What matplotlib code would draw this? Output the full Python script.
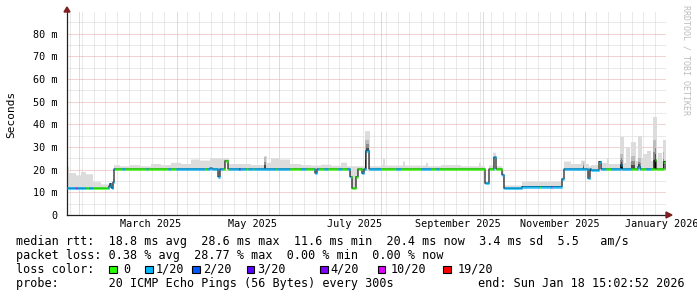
import numpy as np
import pandas as pd
import matplotlib
matplotlib.use('Agg')
import matplotlib.pyplot as plt
import matplotlib.dates as mdates
from matplotlib.patches import Rectangle, Polygon

# time window of the graph (days counted from the left edge)
end = pd.Timestamp('2026-01-18 15:02:52')
span_days = 358.6
start = end - pd.Timedelta(days=span_days)

# median rtt (ms), step values starting at the given day
med_day = [0, 25.1, 25.7, 26.3, 26.9, 27.5, 28.1, 85.6, 86.8, 89.8, 91.0, 94.0, 95.8,
           147.9, 149.1, 168.9, 170.1, 172.5, 173.7, 176.6, 177.8, 179.0, 180.2,
           249.7, 252.1, 255.1, 256.3, 259.9, 261.1, 271.9, 295.8, 297.0, 311.4,
           312.6, 313.2, 318.0, 319.2, 331.1, 331.7, 341.3, 342.5, 351.5, 352.1,
           356.9, 358.1]
med_ms = [11.8, 12.8, 13.9, 12.2, 11.7, 14.5, 20.3, 20.7, 20.3, 16.9, 20.3, 23.9, 20.3,
          18.5, 20.3, 16.9, 11.8, 16.9, 20.3, 18.4, 20.3, 28.4, 20.3,
          14.0, 20.3, 25.5, 20.3, 17.7, 11.8, 12.5, 15.9, 20.3, 16.2,
          20.3, 19.8, 23.6, 20.3, 22.0, 20.3, 21.3, 20.3, 24.3, 20.3,
          23.6, 20.3]

# loss class of the median (index into loss_labels)
loss_day = [0, 4.8, 5.4, 10.8, 12.6, 15.0, 24.0, 28.7, 32.9, 34.7, 46.7, 47.9, 59.9,
            61.7, 64.7, 82.6, 83.8, 92.8, 96.4, 102.4, 103.0, 106.6, 107.8, 110.8,
            111.4, 124.6, 125.7, 133.5, 139.5, 142.5, 147.3, 150.3, 153.3, 155.7,
            162.1, 164.5, 167.1, 169.5, 176.6, 187.4, 196.4, 199.4, 211.4, 217.4,
            220.4, 222.2, 249.7, 252.1, 254.5, 256.3, 259.9, 282.6, 283.2, 289.2,
            289.8, 322.2, 325.1, 337.1, 340.7, 343.1, 346.1, 349.1]
loss_idx = [1, 5, 1, 0, 1, 0, 1, 0, 1, 0, 1, 0, 1,
            0, 1, 0, 1, 0, 1, 4, 1, 0, 1, 0,
            1, 0, 1, 0, 1, 0, 1, 0, 1, 0,
            1, 0, 1, 0, 1, 0, 1, 0, 1, 0,
            1, 0, 1, 0, 1, 0, 1, 0, 1, 5,
            1, 0, 1, 0, 1, 0, 1, 0]

# smoke: upper edge of the ping spread (ms)
smoke_day = [0, 0.6, 4.8, 7.8, 10.8, 15.0, 19.8, 24.6, 27.5, 28.1, 31.7, 37.7, 43.7,
             49.7, 55.7, 61.7, 67.7, 73.7, 79.6, 85.6, 91.6, 96.4, 109.6, 117.4,
             119.2, 121.6, 127.5, 133.5, 139.5, 145.5, 151.5, 157.5, 163.5, 167.1,
             178.4, 180.8, 187.4, 188.6, 189.8, 200.6, 201.8, 214.4, 215.6, 223.4,
             235.3, 246.1, 247.3, 249.7, 252.1, 254.5, 256.3, 259.9, 261.1, 271.9,
             295.8, 297.0, 301.2, 307.2, 309.6, 312.0, 313.2, 319.2, 322.8, 324.0,
             330.5, 332.9, 334.1, 336.5, 337.1, 340.1, 341.3, 343.7, 344.3, 346.7,
             349.1, 350.3, 352.7, 353.3, 355.7, 356.3]
smoke_hi = [21.3, 18.5, 17.5, 19.0, 18.0, 14.5, 13.5, 14.0, 16.0, 22.0, 21.5, 22.0, 21.5,
            22.5, 22.0, 23.0, 22.5, 24.5, 24.0, 25.0, 25.0, 22.5, 22.0, 26.0,
            23.0, 25.0, 24.5, 22.5, 22.0, 21.8, 22.2, 21.7, 23.1, 21.5,
            37.0, 21.5, 22.0, 24.7, 21.8, 23.6, 21.8, 23.0, 21.5, 22.0,
            21.5, 23.0, 21.5, 15.0, 21.8, 27.5, 21.5, 19.0, 13.0, 14.7,
            16.5, 23.6, 22.5, 24.0, 22.5, 21.5, 22.0, 23.0, 25.0, 22.5,
            34.6, 23.0, 30.0, 23.5, 32.4, 24.0, 35.0, 25.0, 27.0, 28.4,
            24.0, 43.4, 24.0, 27.4, 24.0, 33.0]

# darker smoke cores on the spikes
dark_start = [117.4, 178.4, 308.4, 330.5, 337.1, 341.3, 350.3, 356.3]
dark_end = [119.2, 180.8, 309.6, 332.9, 340.1, 343.7, 352.7, 357.5]
dark_top = [25.5, 33.0, 23.5, 27.0, 26.0, 25.0, 33.0, 28.0]

loss_labels = ['0', '1/20', '2/20', '3/20', '4/20', '10/20', '19/20']
loss_colors = ['#26ff00', '#00b8ff', '#0059ff', '#5e00ff', '#7e00ff', '#dd00ff', '#ff0000']

row_rtt = 'median rtt:  18.8 ms avg  28.6 ms max  11.6 ms min  20.4 ms now  3.4 ms sd  5.5   am/s'
row_loss = 'packet loss: 0.38 % avg  28.77 % max  0.00 % min  0.00 % now'
row_probe = 'probe:       20 ICMP Echo Pings (56 Bytes) every 300s'
end_text = 'end: Sun Jan 18 15:02:52 2026'

ymax = 89.8
W, H = 697, 297
mono = 'DejaVu Sans Mono'

fig = plt.figure(figsize=(W / 100, H / 100), dpi=100)
fig.patch.set_facecolor('white')
L, R, B, T = 67, 666, 215, 11.5
ax = fig.add_axes([L / W, 1 - B / H, (R - L) / W, (B - T) / H])
ax.set_facecolor('white')

x0 = mdates.date2num(start)
cols = np.linspace(0, span_days, R - L + 1)
xs = x0 + cols


def steps(days, vals, at):
    i = np.searchsorted(np.array(days), at, side='right') - 1
    return np.array(vals)[np.clip(i, 0, len(vals) - 1)]


med = steps(med_day, med_ms, cols)
hi = steps(smoke_day, smoke_hi, cols)
lidx = steps(loss_day, loss_idx, cols)

# grid
gcol, mcol = '#d4d4d4', '#e9a7a7'
dash = (0, (1.0, 1.0))
majors = pd.date_range('2025-02-01', end, freq='2MS')
for v in np.arange(5, 90, 10):
    ax.axhline(v, color=gcol, lw=0.72, ls=dash, zorder=0)
for v in np.arange(10, 90, 10):
    ax.axhline(v, color=mcol, lw=0.72, ls=dash, zorder=0.5)
for d in pd.date_range(start.normalize(), end, freq='W-MON'):
    if min(abs((d - m).days) for m in majors) < 2:
        continue
    ax.axvline(mdates.date2num(d), color=gcol, lw=0.72, ls=dash, zorder=0)
for d in majors:
    ax.axvline(mdates.date2num(d), color=mcol, lw=0.72, ls=dash, zorder=0.5)

# smoke
ax.fill_between(xs, med, hi, where=hi > med, step='post', color='#dcdcdc', lw=0, zorder=1)
for s, e, t in zip(dark_start, dark_end, dark_top):
    m = (cols >= s) & (cols <= e)
    base = med[m]
    for frac, c in [(1.0, '#bdbdbd'), (0.6, '#8c8c8c'), (0.3, '#4a4a4a')]:
        ax.fill_between(xs[m], base, base + frac * (t - base), step='post', color=c, lw=0, zorder=1.2)

# median
ax.plot(xs, med, drawstyle='steps-post', color='black', lw=0.8, zorder=2)
ax.hlines(med[:-1], xs[:-1], xs[1:], colors=[loss_colors[k] for k in lidx[:-1]],
          lw=1.9, zorder=3)

ax.set_xlim(xs[0], xs[-1])
ax.set_ylim(0, ymax)
for s in ['top', 'right']:
    ax.spines[s].set_visible(False)
for s in ['left', 'bottom']:
    ax.spines[s].set_color('#222222')
    ax.spines[s].set_linewidth(0.9)

yt = np.arange(0, 90, 10)
ax.set_yticks(yt)
ax.set_yticklabels(['0'] + ['%d m' % v for v in yt[1:]], fontfamily=mono, fontsize=7.3)
lab_dates = pd.date_range('2025-03-01', end, freq='2MS') + pd.Timedelta(days=15)
ax.set_xticks(mdates.date2num(lab_dates))
ax.set_xticklabels([d.strftime('%B %Y') for d in lab_dates], fontfamily=mono, fontsize=7.3)
ax.tick_params(axis='y', length=0, pad=7)
ax.tick_params(axis='x', length=0, pad=3)

# axis arrows
ac = '#7f1f1f'
fig.add_artist(Polygon([[(L - 3) / W, 1 - 12 / H], [(L + 3) / W, 1 - 12 / H], [L / W, 1 - 7 / H]],
                       closed=True, color=ac, transform=fig.transFigure))
fig.add_artist(Polygon([[R / W, 1 - (B - 3) / H], [R / W, 1 - (B + 3) / H], [(R + 6) / W, 1 - B / H]],
                       closed=True, color=ac, transform=fig.transFigure))

fig.text(11 / W, 1 - 114 / H, 'Seconds', rotation=90, fontfamily=mono, fontsize=8,
         ha='center', va='center')
fig.text(686 / W, 1 - 60 / H, 'RRDTOOL / TOBI OETIKER', rotation=-90, fontfamily=mono,
         fontsize=6, color='#bdbdbd', ha='center', va='center')

# legend rows
fs = 8.5


def put(x, y, s):
    fig.text(x / W, 1 - y / H, s, fontfamily=mono, fontsize=fs, ha='left', va='center')


y1, y2, y3, y4 = 241, 255.5, 269.5, 283.5
put(16, y1, row_rtt)
put(16, y2, row_loss)
put(16, y3, 'loss color:')
sq_x = [109, 145.3, 192.4, 246.7, 320, 377.8, 443.1]
tx_x = [123.6, 155.6, 203.1, 256.9, 330.2, 391.1, 457.8]
for sx, tx, lab, c in zip(sq_x, tx_x, loss_labels, loss_colors):
    fig.add_artist(Rectangle((sx / W, 1 - (y3 + 3.8) / H), 7.5 / W, 7.5 / H, facecolor=c,
                             edgecolor='black', lw=0.8, transform=fig.transFigure))
    put(tx, y3, lab)
put(16, y4, row_probe)
put(478, y4, end_text)

fig.savefig('out.png', dpi=100)
